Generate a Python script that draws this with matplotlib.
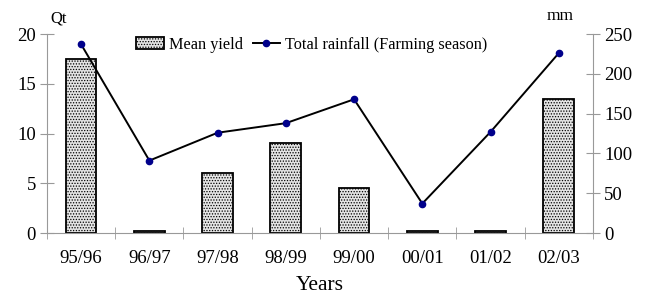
import matplotlib.pyplot as plt
import numpy as np

years = ["95/96", "96/97", "97/98", "98/99", "99/00", "00/01", "01/02", "02/03"]
mean_yield = [17.5, 0.2, 6.0, 9.0, 4.5, 0.2, 0.2, 13.5]
rainfall = [237, 91, 126, 138, 168, 37, 127, 226]

plt.rcParams['font.family'] = ['Liberation Serif', 'DejaVu Serif']
plt.rcParams['hatch.linewidth'] = 0.6

fig = plt.figure(figsize=(6.46, 3.0), dpi=100)
ax = fig.add_axes([0.0728, 0.2233, 0.845, 0.6633])
ax2 = ax.twinx()

x = np.arange(len(years))
bars = ax.bar(x, mean_yield, width=0.45, facecolor='#e4e4e4', edgecolor='black',
              hatch='......', linewidth=1.3, label='Mean yield', zorder=2)
line, = ax2.plot(x, rainfall, color='black', linewidth=1.4, marker='o',
                 markersize=4.5, markerfacecolor='#00008b', markeredgecolor='#00008b',
                 label='Total rainfall (Farming season)')

ax.set_xlim(-0.5, len(years) - 0.5)
ax.set_ylim(0, 20)
ax2.set_ylim(0, 250)
ax.set_yticks([0, 5, 10, 15, 20])
ax2.set_yticks([0, 50, 100, 150, 200, 250])

ax.set_xticks(x)
ax.set_xticklabels(years)
ax.set_xticks(np.arange(len(years) + 1) - 0.5, minor=True)
ax.tick_params(axis='x', which='major', length=0, labelsize=13.5, pad=12)
ax.tick_params(axis='x', which='minor', length=8, direction='inout', color='#999999')
ax.tick_params(axis='y', length=10, direction='inout', color='#999999', labelsize=13.5, pad=3)
ax2.tick_params(axis='y', length=10, direction='inout', color='#999999', labelsize=13.5, pad=3)

for a in (ax, ax2):
    a.spines['top'].set_visible(False)
    for s in ('left', 'right', 'bottom'):
        a.spines[s].set_color('#999999')
ax.spines['right'].set_visible(False)
ax2.spines['left'].set_visible(False)
ax2.spines['bottom'].set_visible(False)

ax.set_xlabel('Years', fontsize=15.5, labelpad=7)
fig.text(0.09, 0.925, 'Qt', fontsize=12, ha='center')
fig.text(0.867, 0.935, 'mm', fontsize=12.5, ha='center')

ax.legend([bars, line], ['Mean yield', 'Total rainfall (Farming season)'],
          loc='upper center', bbox_to_anchor=(0.485, 1.06), ncol=2, frameon=False,
          fontsize=11.7, handlelength=1.7, handletextpad=0.3, columnspacing=0.6)

fig.savefig('out.png', dpi=100)
